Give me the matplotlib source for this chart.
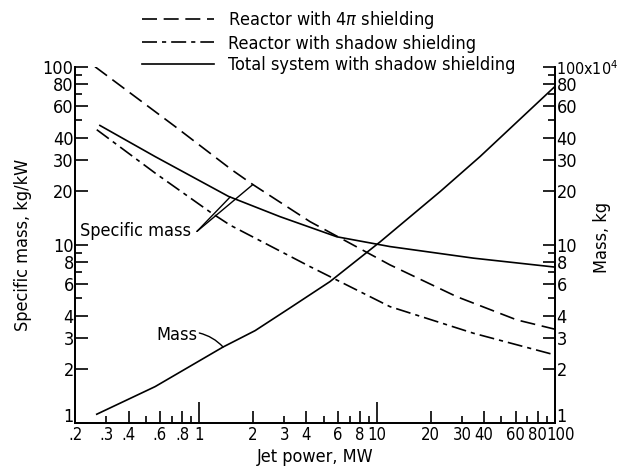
import numpy as np
import matplotlib
matplotlib.use("Agg")
import matplotlib.pyplot as plt
from matplotlib.lines import Line2D
from matplotlib.transforms import ScaledTranslation

plt.rcParams['font.family'] = ['DejaVu Sans']
plt.rcParams['font.stretch'] = 'condensed'
plt.rcParams['mathtext.fontset'] = 'dejavusans'

# jet power (MW) and specific mass (kg/kW)
power_4pi = [0.259, 0.73, 1.52, 2.0, 4.19, 11.8, 28.0, 61.0, 100]
spec_4pi = [100, 46.2, 26.4, 21.8, 13.5, 7.72, 5.12, 3.79, 3.36]

power_shadow = [0.265, 0.564, 1.17, 1.49, 4.19, 11.8, 34.8, 100]
spec_shadow = [44.3, 25.3, 15.1, 12.9, 7.55, 4.5, 3.19, 2.41]

power_total = [0.276, 0.564, 1.46, 2.84, 5.93, 11.8, 34.8, 100]
spec_total = [46.8, 31.3, 18.7, 14.4, 11.1, 9.78, 8.42, 7.5]

# total system mass, in units of 10^4 kg
power_mass = [0.265, 0.564, 1.36, 2.06, 3.24, 5.43, 10.4, 22.6, 37.9, 100]
mass_1e4 = [1.12, 1.6, 2.67, 3.3, 4.43, 6.22, 10.4, 19.9, 31.3, 77.5]

x_ticks = [0.2, 0.3, 0.4, 0.6, 0.8, 1, 2, 3, 4, 6, 8, 10, 20, 30, 40, 60, 80, 100]
x_labels = ['.2', '.3', '.4', '.6', '.8', '1', '2', '3', '4', '6', '8', '10',
            '20', '30', '40', '60', '80', '100']
x_minor = [0.5, 0.7, 0.9, 5, 7, 9, 50, 70, 90]
y_ticks = [1, 2, 3, 4, 6, 8, 10, 20, 30, 40, 60, 80, 100]
y_labels = ['1', '2', '3', '4', '6', '8', '10', '20', '30', '40', '60', '80', '100']
y_minor = [5, 7, 9, 50, 70, 90]
y2_labels = y_labels[:-1] + ['100x10$^4$']

FS = 13
lw = 1.2
dash_4pi = (0, (9, 4))
dash_shadow = (0, (9, 3, 2.5, 3))

fig = plt.figure(figsize=(6.21, 4.69), dpi=100)
ax = fig.add_axes([0.1208, 0.0981, 0.7729, 0.7597])
ax.set_xscale('log')
ax.set_yscale('log')
ax.set_xlim(0.2, 100)
ax.set_ylim(1, 100)

ax.plot(power_4pi, spec_4pi, color='black', lw=lw, linestyle=dash_4pi)
ax.plot(power_shadow, spec_shadow, color='black', lw=lw, linestyle=dash_shadow)
ax.plot(power_total, spec_total, color='black', lw=lw)

ax2 = ax.twinx()
ax2.set_yscale('log')
ax2.set_ylim(1e4, 1e6)
ax2.plot(power_mass, np.array(mass_1e4) * 1e4, color='black', lw=lw)

for a in (ax, ax2):
    a.spines['top'].set_visible(False)
    for s in a.spines.values():
        s.set_linewidth(1.3)

ax.set_xticks(x_ticks)
ax.set_xticklabels(x_labels, fontsize=12)
ax.set_xticks(x_minor, minor=True)
ax.set_yticks(y_ticks)
ax.set_yticklabels(y_labels, fontsize=FS)
ax.set_yticks(y_minor, minor=True)
ax.yaxis.set_minor_formatter(plt.NullFormatter())
ax.xaxis.set_minor_formatter(plt.NullFormatter())
ax.tick_params(which='both', direction='in', width=1.2)
ax.tick_params(axis='y', pad=1)
ax.tick_params(axis='x', pad=2)
ax.tick_params(which='major', length=9)
ax.tick_params(which='minor', length=5)

ax2.set_yticks(np.array(y_ticks) * 1e4)
ax2.set_yticklabels(y2_labels, fontsize=FS)
ax2.set_yticks(np.array(y_minor) * 1e4, minor=True)
ax2.yaxis.set_minor_formatter(plt.NullFormatter())
ax2.tick_params(which='both', direction='in', width=1.2, pad=1)
ax2.tick_params(which='major', length=9)
ax2.tick_params(which='minor', length=5)
ax2.get_yticklabels()[-1].set_fontsize(11.5)

# bottom ticks: decades long, 3s short
for pos, t in zip(x_ticks, ax.xaxis.get_major_ticks()):
    if pos in (1, 10):
        t.tick1line.set_markersize(15)
    elif pos in (0.3, 3, 30):
        t.tick1line.set_markersize(5)

# lift the "1" labels at the bottom corners clear of the x labels
lift = ScaledTranslation(0, 6 / 72, fig.dpi_scale_trans)
for tick in (ax.yaxis.get_major_ticks()[0], ax2.yaxis.get_major_ticks()[0]):
    tick.label1.set_transform(tick.label1.get_transform() + lift)
    tick.label2.set_transform(tick.label2.get_transform() + lift)
# the last x label sits a little right of the corner, as in the original
last = ax.xaxis.get_major_ticks()[-1]
last.label1.set_transform(last.label1.get_transform()
                          + ScaledTranslation(4 / 72, 0, fig.dpi_scale_trans))

ax.set_xlabel('Jet power, MW', fontsize=FS, labelpad=3)
ax.set_ylabel('Specific mass, kg/kW', fontsize=FS)
ax.yaxis.set_label_coords(-0.09, 0.5)
ax2.set_ylabel('Mass, kg', fontsize=FS)
ax2.yaxis.set_label_coords(1.079, 0.52)

# annotations
def on_curve(xq, xs, ys):
    return 10 ** np.interp(np.log10(xq), np.log10(xs), np.log10(ys))

ax.text(0.212, 11.9, 'Specific mass', fontsize=FS, ha='left', va='center')
for xq, xs, ys in ((1.49, power_total, spec_total), (2.0, power_4pi, spec_4pi)):
    ax.annotate('', xy=(xq, on_curve(xq, xs, ys)), xytext=(0.97, 11.9),
                arrowprops=dict(arrowstyle='-', lw=1.0, color='black',
                                shrinkA=0, shrinkB=0))

ax.text(0.75, 3.12, 'Mass', fontsize=FS, ha='center', va='center')
ax.annotate('', xy=(1.36, on_curve(1.36, power_mass, mass_1e4)), xytext=(1.0, 3.2),
            arrowprops=dict(arrowstyle='-', lw=1.0, color='black', shrinkA=0, shrinkB=0,
                            connectionstyle='arc3,rad=-0.15'))

handles = [Line2D([], [], color='black', lw=lw, linestyle=dash_4pi),
           Line2D([], [], color='black', lw=lw, linestyle=dash_shadow),
           Line2D([], [], color='black', lw=lw)]
labels = ['Reactor with 4$\\pi$ shielding', 'Reactor with shadow shielding',
          'Total system with shadow shielding']
fig.legend(handles, labels, loc='upper left', bbox_to_anchor=(0.214, 1.0),
           frameon=False, fontsize=FS, handlelength=4.0, handletextpad=0.75,
           labelspacing=0.2, borderpad=0.5, borderaxespad=0)

fig.savefig('out.png', dpi=100)
